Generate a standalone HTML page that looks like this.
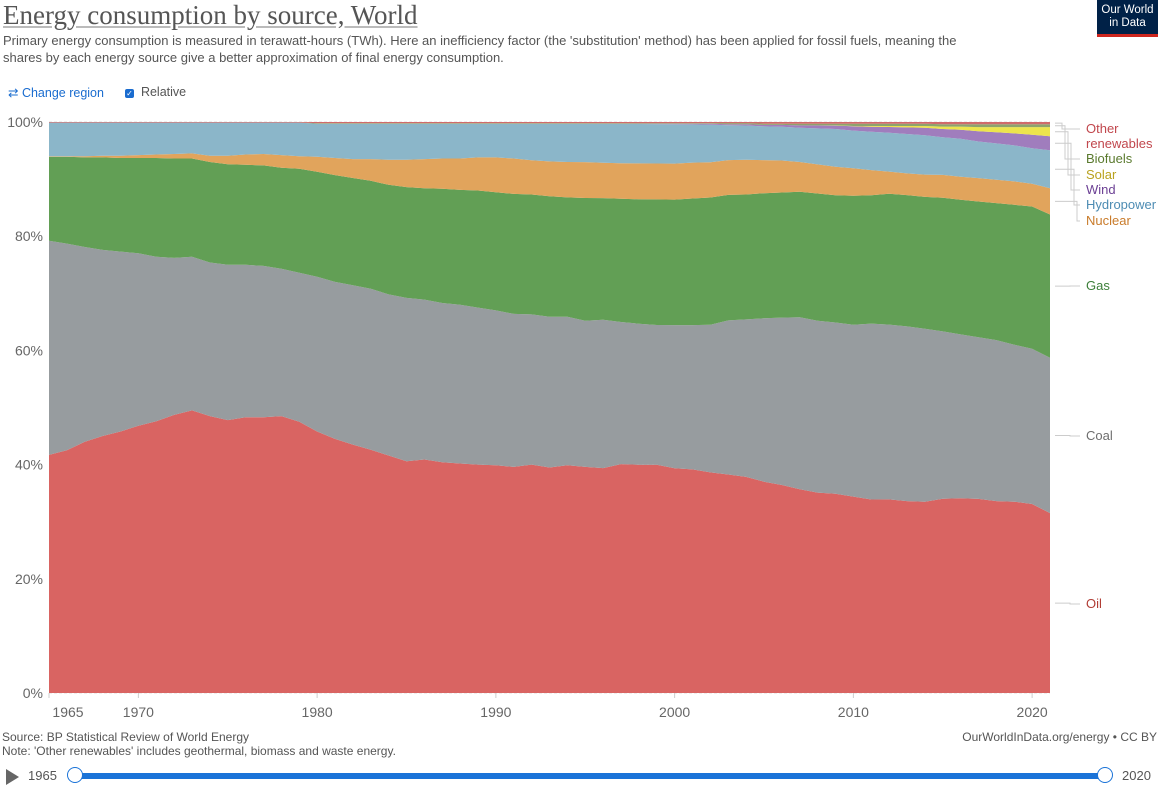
<!DOCTYPE html>
<html><head><meta charset="utf-8"><style>
body{margin:0;width:1165px;height:793px;background:#fff;font-family:"Liberation Sans",sans-serif;overflow:hidden;position:relative}
.t{position:absolute;white-space:nowrap}
</style></head><body>
<div class="t" style="left:3px;top:0px;font-family:'Liberation Serif',serif;font-size:27px;color:#555;text-decoration:underline;text-decoration-color:#bbb">Energy consumption by source, World</div>
<div class="t" style="left:3px;top:33px;font-size:13px;color:#555;line-height:16.5px;white-space:normal;width:980px">Primary energy consumption is measured in terawatt-hours (TWh). Here an inefficiency factor (the 'substitution' method) has been applied for fossil fuels, meaning the shares by each energy source give a better approximation of final energy consumption.</div>
<div style="position:absolute;left:1097px;top:0;width:61px;height:37px;background:#002147;border-bottom:3px solid #ce261e;color:#fff;font-size:11.5px;line-height:13px;text-align:center;box-sizing:border-box;padding-top:4px">Our World<br>in Data</div>
<div class="t" style="left:8px;top:85px;font-size:12.5px;color:#1a6ccf">⇄ Change region</div>
<div class="t" style="left:125px;top:85px;font-size:12.5px;color:#555"><span style="display:inline-block;width:9px;height:9px;background:#1a6ccf;border-radius:2px;color:#fff;font-size:8px;line-height:9px;text-align:center;vertical-align:0px">✓</span>&nbsp; Relative</div>
<svg id="chart" width="1165" height="793" style="position:absolute;left:0;top:0"></svg>
<div class="t" style="left:2px;top:730px;font-size:12px;color:#555;line-height:14px">Source: BP Statistical Review of World Energy<br>Note: 'Other renewables' includes geothermal, biomass and waste energy.</div>
<div class="t" style="right:8px;top:730px;font-size:12px;color:#555">OurWorldInData.org/energy • CC BY</div>
<div style="position:absolute;left:6px;top:769px;width:0;height:0;border-left:13px solid #666;border-top:8px solid transparent;border-bottom:8px solid transparent"></div>
<div class="t" style="left:28px;top:768px;font-size:13px;color:#555">1965</div>
<div style="position:absolute;left:75px;top:773px;width:1030px;height:6px;background:#1a73d8;border-radius:3px"></div>
<div style="position:absolute;left:67px;top:767px;width:14px;height:14px;border:1.5px solid #1a73d8;background:#fff;border-radius:50%"></div>
<div style="position:absolute;left:1097px;top:767px;width:14px;height:14px;border:1.5px solid #1a73d8;background:#fff;border-radius:50%"></div>
<div class="t" style="left:1122px;top:768px;font-size:13px;color:#555">2020</div>
<script>
const years=[];for(let y=1965;y<=2021;y++)years.push(y);
const oil=[41.7,42.5,44.0,45.0,45.8,46.8,47.6,48.7,49.5,48.5,47.8,48.3,48.3,48.5,47.5,45.8,44.5,43.5,42.6,41.6,40.6,40.9,40.4,40.2,40.0,39.9,39.6,40.0,39.5,39.9,39.6,39.4,40.1,40.0,40.0,39.4,39.2,38.7,38.3,37.9,37.0,36.4,35.7,35.1,34.9,34.4,33.9,33.9,33.6,33.5,34.0,34.1,34.0,33.6,33.5,33.1,31.5];
const coal=[37.5,36.2,34.1,32.6,31.5,30.2,28.8,27.5,26.9,26.9,27.2,26.7,26.5,25.8,26.1,27.1,27.5,27.9,28.2,28.2,28.6,28.0,27.9,27.8,27.5,27.1,26.8,26.3,26.4,26.0,25.6,26.0,24.9,24.7,24.5,25.1,25.3,25.9,27.0,27.6,28.6,29.3,30.1,30.1,30.0,30.1,30.8,30.6,30.6,30.3,29.3,28.7,28.3,28.2,27.5,27.2,27.2];
const gas=[14.7,15.2,15.7,16.2,16.4,16.7,17.3,17.4,17.2,17.6,17.6,17.5,17.6,17.7,18.2,18.4,18.7,18.8,18.9,19.2,19.4,19.5,20.0,20.1,20.5,20.7,21.0,21.0,21.1,20.9,21.5,21.3,21.6,21.8,22.0,22.0,22.2,22.3,22.0,21.9,21.9,21.9,22.0,22.3,22.3,22.6,22.5,22.9,23.0,23.1,23.4,23.6,23.8,24.0,24.5,24.9,25.1];
const nuclear=[0.1,0.1,0.2,0.3,0.4,0.5,0.6,0.8,0.9,1.1,1.5,1.8,2.0,2.2,2.2,2.6,3.0,3.3,3.8,4.4,4.8,5.1,5.3,5.5,5.8,6.1,6.2,6.0,6.1,6.2,6.3,6.2,6.2,6.3,6.3,6.3,6.3,6.2,6.1,6.1,5.8,5.6,5.2,5.1,5.0,4.8,4.4,3.9,3.8,3.9,4.0,4.0,4.1,4.1,4.1,4.0,4.6];
const hydro=[5.9,5.9,5.9,5.8,5.8,5.7,5.6,5.5,5.4,5.8,5.8,5.6,5.5,5.7,5.9,5.8,6.0,6.2,6.2,6.3,6.3,6.2,6.1,6.1,5.9,5.9,6.1,6.4,6.6,6.7,6.7,6.8,6.9,6.9,6.9,6.9,6.7,6.6,6.1,6.0,5.9,5.9,6.0,6.3,6.6,6.6,6.7,6.8,6.9,6.9,6.6,6.65,6.4,6.35,6.3,6.2,6.65];
const wind=[0,0,0,0,0,0,0,0,0,0,0,0,0,0,0,0,0,0,0,0,0,0,0,0,0,0,0,0,0,0,0.02,0.03,0.04,0.05,0.07,0.1,0.12,0.15,0.18,0.22,0.27,0.33,0.4,0.5,0.6,0.75,0.9,1.0,1.15,1.3,1.45,1.6,1.8,1.95,2.1,2.35,2.45];
const solar=[0,0,0,0,0,0,0,0,0,0,0,0,0,0,0,0,0,0,0,0,0,0,0,0,0,0,0,0,0,0,0,0,0,0,0,0,0,0,0,0,0,0,0,0.02,0.03,0.06,0.12,0.18,0.25,0.32,0.42,0.55,0.72,0.9,1.1,1.35,1.6];
const biofuels=[0,0,0,0,0,0,0,0,0,0,0,0,0,0,0,0.1,0.1,0.1,0.1,0.1,0.1,0.1,0.1,0.1,0.1,0.1,0.1,0.1,0.1,0.1,0.1,0.1,0.1,0.1,0.1,0.1,0.1,0.1,0.2,0.2,0.2,0.2,0.3,0.3,0.3,0.4,0.4,0.4,0.4,0.4,0.4,0.4,0.5,0.5,0.5,0.5,0.5];
const otherRen=[0.1,0.1,0.1,0.1,0.1,0.1,0.1,0.1,0.1,0.1,0.1,0.1,0.1,0.1,0.1,0.2,0.2,0.2,0.2,0.2,0.2,0.2,0.2,0.2,0.2,0.2,0.2,0.2,0.2,0.2,0.2,0.2,0.2,0.2,0.2,0.2,0.2,0.2,0.2,0.2,0.3,0.3,0.3,0.3,0.3,0.3,0.3,0.3,0.3,0.3,0.4,0.4,0.4,0.4,0.4,0.4,0.4];
const yTicks=[0,20,40,60,80,100];
const xTicks=[1965,1970,1980,1990,2000,2010,2020];
const seriesNames=["Oil","Coal","Gas","Nuclear","Hydropower","Wind","Solar","Biofuels","Other renewables"];

const svg=document.getElementById('chart');const NS='http://www.w3.org/2000/svg';
const X0=49,X1=1050,Y0=693,Y1=122;
const xs=y=>X0+(y-1965)/(2021-1965)*(X1-X0);
const ys=v=>Y0-v/100*(Y0-Y1);
function mk(t,a){const e=document.createElementNS(NS,t);for(const k in a)e.setAttribute(k,a[k]);svg.appendChild(e);return e;}
yTicks.forEach(v=>{
 const l=mk('line',{x1:X0,x2:X1,y1:ys(v),y2:ys(v),stroke:'#ddd','stroke-dasharray':'3,2','stroke-width':1});
 
 
 const t=mk('text',{x:43,y:ys(v)+5,'text-anchor':'end','font-size':14,fill:'#666','font-family':'Liberation Sans, sans-serif'});
 t.textContent=v+'%';
 
 
});
const series=[oil,coal,gas,nuclear,hydro,wind,solar,biofuels,otherRen];
const fills=["#d96462","#979c9f","#629f55","#e1a45c","#8bb6c9","#a07dbd","#ece44c","#8da36d","#d06a6a"];
const keys=["oil","coal","gas","nuclear","hydropower","wind","solar","biofuels","other-renewables"];
const totals=years.map((_,i)=>series.reduce((s,a)=>s+a[i],0));
let base=years.map(()=>0);const tops=[];
series.forEach((arr,k)=>{
 const top=base.map((b,i)=>b+arr[i]/totals[i]*100);
 let d='M'+years.map((y,i)=>xs(y).toFixed(1)+','+ys(top[i]).toFixed(1)).join('L');
 for(let i=years.length-1;i>=0;i--)d+='L'+xs(years[i]).toFixed(1)+','+ys(base[i]).toFixed(1);
 const p=mk('path',{d:d+'Z',fill:fills[k]});
 
 
 tops.push(top.slice());base=top;
});
xTicks.forEach(y=>{
 const x=xs(y);
 mk('line',{x1:x,x2:x,y1:Y0,y2:Y0+5,stroke:'#ccc'});
 const t=mk('text',{x:y==1965?x+19:x,y:Y0+24,'text-anchor':'middle','font-size':14,fill:'#666','font-family':'Liberation Sans, sans-serif'});
 t.textContent=y;
 
 
});
const labelCols=["#b13d35","#6e6e6e","#3d7f3a","#c97b2a","#4d8cb3","#6b3f94","#b9a21e","#5a7a2e","#c1474d"];
const labelY=[608,440,290,225,209,194,179,163,133];
series.forEach((arr,k)=>{
 const i=years.length-1;const mid=ys(k==0?tops[0][i]/2:(tops[k][i]+tops[k-1][i])/2);
 const ly=labelY[k];
 mk('polyline',{points:`1055,${mid} ${k>=3?1062+ (8-k)*3:1070},${mid} ${k>=3?1062+(8-k)*3:1070},${ly-4} 1080,${ly-4}`,fill:'none',stroke:'#ccc'});
 const t=mk('text',{x:1086,y:ly,'font-size':13,fill:labelCols[k],'font-family':'Liberation Sans, sans-serif'});
 if(k==8){t.innerHTML='<tspan x="1086">Other</tspan><tspan x="1086" dy="15">renewables</tspan>';}
 else t.textContent=seriesNames[k];
 
 
});
</script>
</body></html>
